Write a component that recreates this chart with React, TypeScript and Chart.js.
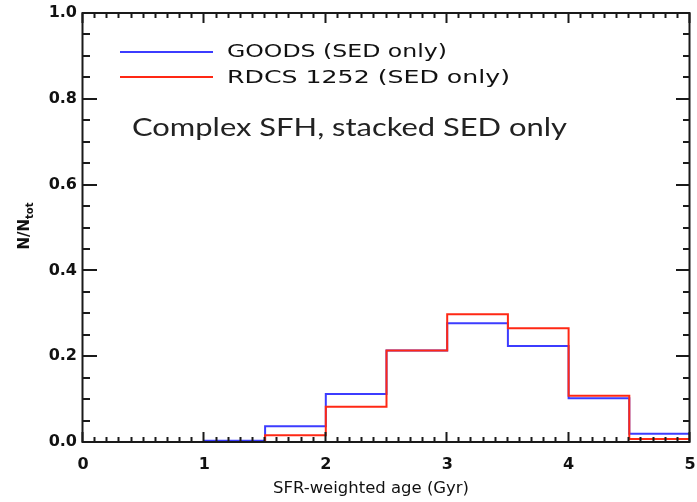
import React, { useEffect, useRef } from 'react';
import { Chart, registerables } from 'chart.js';

Chart.register(...registerables);

const binEdges = [0, 0.5, 1, 1.5, 2, 2.5, 3, 3.5, 4, 4.5, 5];
const goodsValues = [0, 0, 0.003, 0.037, 0.112, 0.213, 0.277, 0.224, 0.102, 0.019];
const rdcsValues = [0, 0, 0, 0.016, 0.082, 0.213, 0.298, 0.265, 0.108, 0.007];
const xTickLabels = ['0', '1', '2', '3', '4', '5'];
const yTickLabels = ['0.0', '0.2', '0.4', '0.6', '0.8', '1.0'];
const seriesNames = ['GOODS (SED only)', 'RDCS 1252 (SED only)'];
const seriesColors = ['rgb(60,60,255)', 'rgb(255,40,20)'];
const annotationText = 'Complex SFH, stacked SED only';
const xTitle = 'SFR-weighted age (Gyr)';
const yTitleMain = 'N/N';
const yTitleSub = 'tot';

function stepPoints(values: number[]) {
  const pts = values.map((v, i) => ({ x: binEdges[i], y: v }));
  pts.push({ x: binEdges[binEdges.length - 1], y: values[values.length - 1] });
  return pts;
}

function drawFit(ctx: CanvasRenderingContext2D, text: string, x: number, y: number, width: number, align: CanvasTextAlign) {
  const m = ctx.measureText(text).width;
  const sx = width / m;
  ctx.save();
  ctx.translate(x, y);
  ctx.scale(sx, 1);
  ctx.textAlign = align;
  ctx.fillText(text, 0, 0);
  ctx.restore();
}

const framePlugin = {
  id: 'idlFrame',
  afterDraw(chart: any) {
    const ctx: CanvasRenderingContext2D = chart.ctx;
    const { left, right, top, bottom } = chart.chartArea;
    const xs = chart.scales.x;
    const ys = chart.scales.y;
    ctx.save();
    ctx.strokeStyle = '#1a1a1a';
    ctx.lineWidth = 2;
    ctx.beginPath();
    ctx.rect(left - 0.5, top, right - left, bottom - top);
    ctx.stroke();
    ctx.beginPath();
    for (let k = 0; k <= 50; k++) {
      const px = Math.round(xs.getPixelForValue(k / 10)) - 0.5;
      const len = k % 10 === 0 ? 10 : 5;
      ctx.moveTo(px, bottom);
      ctx.lineTo(px, bottom - len);
      ctx.moveTo(px, top);
      ctx.lineTo(px, top + len);
    }
    for (let k = 0; k <= 20; k++) {
      const py = Math.round(ys.getPixelForValue(k / 20));
      const len = k % 4 === 0 ? 14 : 7;
      ctx.moveTo(left, py);
      ctx.lineTo(left + len, py);
      ctx.moveTo(right, py);
      ctx.lineTo(right - len, py);
    }
    ctx.stroke();

    // legend
    ctx.lineWidth = 2;
    const legY = [52, 77];
    const legBase = [57, 83];
    const legW = [220, 283];
    ctx.font = '18px "DejaVu Sans"';
    ctx.fillStyle = '#111';
    seriesNames.forEach((name, i) => {
      ctx.strokeStyle = seriesColors[i];
      ctx.beginPath();
      ctx.moveTo(120, legY[i]);
      ctx.lineTo(213, legY[i]);
      ctx.stroke();
      drawFit(ctx, name, 227, legBase[i], legW[i], 'left');
    });

    // annotation
    ctx.font = '25px Lato';
    ctx.fillStyle = '#222';
    drawFit(ctx, annotationText, 132, 136, 435, 'left');

    // x title
    ctx.font = '16px "DejaVu Sans"';
    ctx.fillStyle = '#111';
    drawFit(ctx, xTitle, 371, 493, 196, 'center');

    // y title
    ctx.save();
    ctx.translate(29, 226);
    ctx.rotate(-Math.PI / 2);
    ctx.font = 'bold 15px "DejaVu Sans"';
    const w1 = ctx.measureText(yTitleMain).width;
    ctx.font = 'bold 10px "DejaVu Sans"';
    const w2 = ctx.measureText(yTitleSub).width;
    const start = -(w1 + w2) / 2;
    ctx.textAlign = 'left';
    ctx.font = 'bold 15px "DejaVu Sans"';
    ctx.fillText(yTitleMain, start, 0);
    ctx.font = 'bold 10px "DejaVu Sans"';
    ctx.fillText(yTitleSub, start + w1, 4);
    ctx.restore();

    ctx.restore();
  },
};

export default function App() {
  const ref = useRef<HTMLCanvasElement | null>(null);
  useEffect(() => {
    if (!ref.current) return;
    const chart = new Chart(ref.current, {
      type: 'line',
      data: {
        datasets: [
          {
            label: seriesNames[0],
            data: stepPoints(goodsValues),
            borderColor: seriesColors[0],
            borderWidth: 2,
            stepped: 'before',
            pointRadius: 0,
            fill: false,
            order: 1,
          },
          {
            label: seriesNames[1],
            data: stepPoints(rdcsValues),
            borderColor: seriesColors[1],
            borderWidth: 2,
            stepped: 'before',
            pointRadius: 0,
            fill: false,
            order: 0,
          },
        ],
      },
      options: {
        animation: false,
        responsive: false,
        devicePixelRatio: 1,
        layout: { padding: { top: 13, right: 7, left: 0, bottom: 0 } },
        plugins: { legend: { display: false }, tooltip: { enabled: false } },
        scales: {
          x: {
            type: 'linear',
            min: 0,
            max: 5,
            grid: { display: false, drawTicks: false },
            border: { display: false },
            ticks: {
              stepSize: 1,
              padding: 13,
              color: '#111',
              font: { family: 'DejaVu Sans', size: 16, weight: 'bold' },
              maxRotation: 0,
              callback: (v: any, i: number) => xTickLabels[i],
            },
            afterFit: (s: any) => {
              s.height = 60;
              s.paddingLeft = 0;
              s.paddingRight = 0;
            },
          },
          y: {
            type: 'linear',
            min: 0,
            max: 1,
            grid: { display: false, drawTicks: false },
            border: { display: false },
            ticks: {
              stepSize: 0.2,
              padding: 6,
              color: '#111',
              font: { family: 'DejaVu Sans', size: 16, weight: 'bold' },
              callback: (v: any, i: number) => yTickLabels[i],
            },
            afterFit: (s: any) => {
              s.width = 83;
              s.paddingTop = 0;
              s.paddingBottom = 0;
            },
          },
        },
      },
      plugins: [framePlugin],
    });
    return () => chart.destroy();
  }, []);
  return (
    <div style={{ position: 'absolute', left: 0, top: 0, width: 697, height: 502, background: '#fff' }}>
      <canvas ref={ref} width={697} height={502} style={{ display: 'block' }} />
    </div>
  );
}
